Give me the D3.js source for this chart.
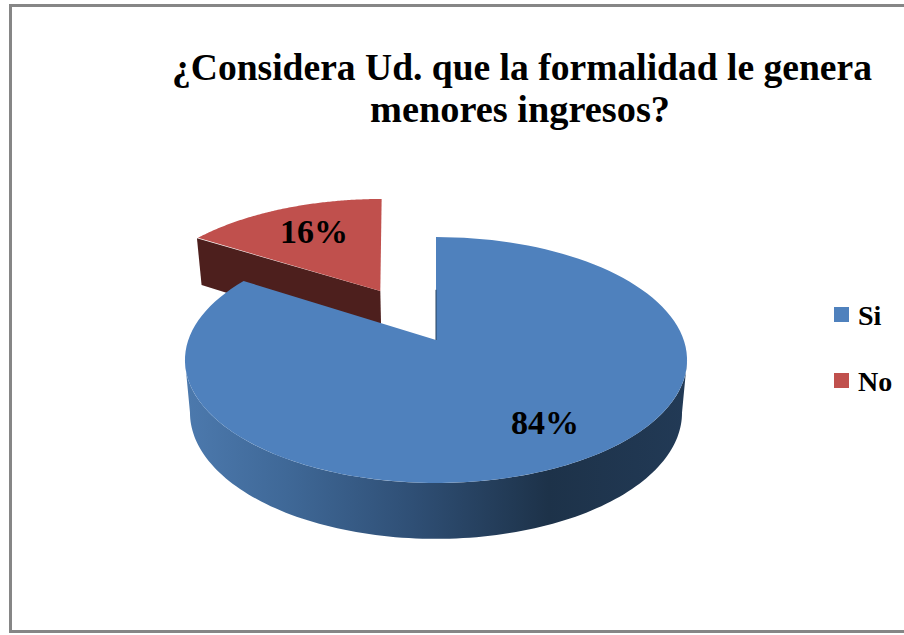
<!DOCTYPE html>
<html><head><meta charset="utf-8">
<script src="https://d3js.org/d3.v7.min.js"></script>
<style>html,body{margin:0;padding:0;background:#fff;overflow:hidden}svg{display:block}
text{font-family:"Liberation Serif",serif;font-weight:700;fill:#000}</style>
</head><body><svg id="c" width="904" height="635"></svg>
<script>
const categories = ["Si", "No"];
const values = [84, 16];
const labels = ["84%", "16%"];
const titleLines = ["¿Considera Ud. que la formalidad le genera", "menores ingresos?"];
const colors = ["#4f81bd", "#c0504d"];
const wallColors = ["#24405f", "#4d1f1d"];

const svg = d3.select("#c");
const deg = Math.PI / 180;
// perspective mapping of the pie plane to the screen
const cx = 436, cy = 340, R = 247.7, K = 119.7, P = 0.1626, EXPLODE = 0.5;
const project = (u, v, lower = false) => {
  const w = 1 + P * v;
  let x = cx + R * u / w, y = cy - K * v / w;
  if (lower) { x = cx + (x - cx) * 0.98; y += 52 / (1 + 0.07 * v); }
  return [x, y];
};
const color = d3.scaleOrdinal(categories, colors);
const wall = d3.scaleOrdinal(categories, wallColors);
const line = d3.line();
const pie = d3.pie().sort(null).value(d => d)(values);
const rim = (a0, a1, ou, ov, lower = false) =>
  d3.range(0, 121).map(i => {
    const a = a0 + (a1 - a0) * i / 120;
    return project(ou + Math.sin(a), ov + Math.cos(a), lower);
  });
const nudge = (pts, dx, dy) => pts.map(p => [p[0] + dx, p[1] + dy]);

// frame
svg.append("rect").attr("x", 10.5).attr("y", 5.5).attr("width", 910).attr("height", 626)
  .attr("fill", "#fff").attr("stroke", "#868686").attr("stroke-width", 3);

// side gradient
const grad = svg.append("defs").append("linearGradient").attr("id", "side")
  .attr("gradientUnits", "userSpaceOnUse").attr("x1", 187).attr("x2", 689).attr("y1", 0).attr("y2", 0);
[[0, "#4c79ad"], [0.2, "#3f6897"], [0.45, "#2f4f75"], [0.72, "#1d3249"], [1, "#223a56"]]
  .forEach(s => grad.append("stop").attr("offset", s[0]).attr("stop-color", s[1]));

// exploded slice (No)
{
  const d = pie[1], mid = (d.startAngle + d.endAngle) / 2;
  const ou = EXPLODE * Math.sin(mid), ov = EXPLODE * Math.cos(mid);
  const a = d.startAngle, b = d.endAngle;
  const o = [ou, ov], s = [ou + Math.sin(a), ov + Math.cos(a)];
  const corner = nudge([project(...s)], -7, -1)[0];
  const cornerLow = nudge([project(...s, true)], -7, -3)[0];
  svg.append("path").attr("fill", wall(categories[1]))
    .attr("d", line([corner, project(...o), project(...o, true), cornerLow]) + "Z");
  svg.append("path").attr("fill", color(categories[1]))
    .attr("d", line([project(...o), ...nudge(rim(a, b, ou, ov), -6, -1.5)]) + "Z");
}
// main slice (Si)
{
  const d = pie[0];
  // silhouette of the side wall: the widest points of the rim
  const silhouette = Math.acos(-P);
  const a0 = silhouette, a1 = 2 * Math.PI - silhouette;
  const front = rim(a0, a1, 0, 0);
  const back = rim(a0, a1, 0, 0, true).reverse();
  svg.append("path").attr("fill", "url(#side)").attr("d", line([...front, ...back]) + "Z");
  svg.append("path").attr("fill", color(categories[0]))
    .attr("d", line([project(0, 0), ...rim(d.startAngle, d.endAngle, 0, 0)]) + "Z");
  svg.append("path").attr("fill", "none").attr("stroke", wall(categories[0])).attr("stroke-width", 1)
    .attr("d", line([project(0, 0), project(0, 0.45)]));
}
// title
const titleY = [80, 122];
const titleX = [522, 520];
const titleW = [700, 300];
svg.selectAll(".t").data(titleLines).join("text").attr("class", "t")
  .attr("x", (d, i) => titleX[i]).attr("y", (d, i) => titleY[i]).attr("text-anchor", "middle")
  .attr("textLength", (d, i) => titleW[i]).attr("lengthAdjust", "spacingAndGlyphs")
  .attr("font-size", 38).text(d => d);

// data labels
const labelXY = [[545, 434], [314, 243]];
svg.selectAll(".l").data(labels).join("text").attr("class", "l")
  .attr("x", (d, i) => labelXY[i][0]).attr("y", (d, i) => labelXY[i][1]).attr("text-anchor", "middle")
  .attr("font-size", 34).text(d => d);

// legend
const legendY = d3.scalePoint(categories, [307, 373]);
const lg = svg.selectAll(".g").data(categories).join("g").attr("class", "g")
  .attr("transform", d => `translate(834,${legendY(d)})`);
lg.append("rect").attr("width", 15).attr("height", 15).attr("fill", d => color(d));
lg.append("text").attr("x", 24).attr("y", 18).attr("font-size", 28).text(d => d);
</script></body></html>
